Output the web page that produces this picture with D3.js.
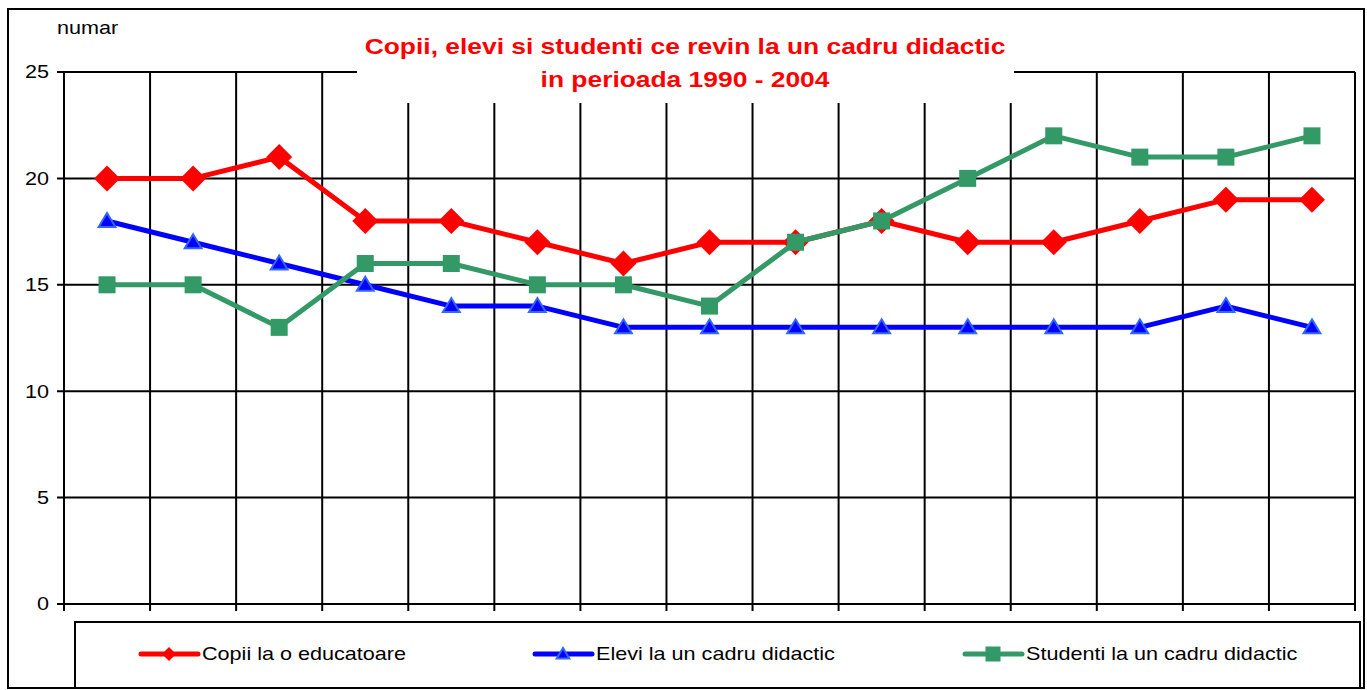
<!DOCTYPE html>
<html><head><meta charset="utf-8">
<script src="https://cdn.jsdelivr.net/npm/d3@7"></script>
<style>body{margin:0;background:#fff}svg{display:block;font-family:"Liberation Sans",Arial,sans-serif}</style>
</head><body>
<svg id="c" width="1367" height="690"></svg>
<script>
const years = ["1990","1991","1992","1993","1994","1995","1996","1997","1998","1999","2000","2001","2002","2003","2004"];
const copii = [20,20,21,18,18,17,16,17,17,18,17,17,18,19,19];
const elevi = [18,17,16,15,14,14,13,13,13,13,13,13,13,14,13];
const studenti = [15,15,13,16,16,15,15,14,17,18,20,22,21,21,22];
const yTicks = [0,5,10,15,20,25];
const titleLines = ["Copii, elevi si studenti ce revin la un cadru didactic","in perioada 1990 - 2004"];
const seriesNames = ["Copii la o educatoare","Elevi la un cadru didactic","Studenti la un cadru didactic"];

const svg = d3.select("#c");
const L=64, R=1355, T=72, B=604;
const SX=1.2;
const x = d3.scaleBand().domain(years).range([L,R]);
const y = d3.scaleLinear().domain([0,25]).range([B,T]);
const cx = d => x(d)+x.bandwidth()/2;
const place = (px,py) => `translate(${px},${py}) scale(${SX},1)`;

// outer border
svg.append("rect").attr("x",8).attr("y",9).attr("width",1356).attr("height",679)
  .attr("fill","none").attr("stroke","#000").attr("stroke-width",2);

// horizontal gridlines
svg.append("g").selectAll("line").data(yTicks).join("line")
  .attr("x1",L-7).attr("x2",R).attr("y1",d=>y(d)).attr("y2",d=>y(d))
  .attr("stroke","#000").attr("stroke-width",2);
// vertical gridlines at band boundaries
const bounds = years.map(d=>x(d)).concat([R]);
svg.append("g").selectAll("line").data(bounds).join("line")
  .attr("x1",d=>d).attr("x2",d=>d).attr("y1",T).attr("y2",(d,i)=>B+7)
  .attr("stroke","#000").attr("stroke-width",2);

// y labels
svg.append("g").selectAll("text").data(yTicks).join("text")
  .attr("transform",d=>place(49,y(d))).attr("dy","0.36em").attr("text-anchor","end")
  .attr("font-size",18).text(d=>d);
svg.append("text").attr("transform",place(57,34)).attr("font-size",18).text("numar");

// title box
svg.append("rect").attr("x",357).attr("y",20).attr("width",657).attr("height",83).attr("fill","#fff");
svg.append("g").selectAll("text").data(titleLines).join("text")
  .attr("transform",(d,i)=>place(685,54+i*33)).attr("text-anchor","middle")
  .attr("font-size",22).attr("font-weight","bold").attr("fill","#ff0000").text(d=>d);

const line = d3.line().x((d,i)=>cx(years[i])).y(d=>y(d));
const diamond = s => `M0,${-s}L${s},0L0,${s}L${-s},0Z`;
const tri = s => `M0,${-s}L${s*1.05},${s*0.75}L${-s*1.05},${s*0.75}Z`;

function drawSeries(vals,color,markerFn){
  const g = svg.append("g");
  g.append("path").attr("d",line(vals)).attr("fill","none").attr("stroke",color).attr("stroke-width",5).attr("stroke-linejoin","round");
  vals.forEach((v,i)=>markerFn(g,cx(years[i]),y(v)));
}
const mkDiamond=(g,px,py,s=13)=>g.append("path").attr("d",diamond(s)).attr("transform",`translate(${px},${py})`).attr("fill","#ff0000");
const mkTri=(g,px,py,s=8)=>g.append("path").attr("d",tri(s)).attr("transform",`translate(${px},${py})`).attr("fill","#0000ff").attr("stroke","#3366ff").attr("stroke-width",2);
const mkSq=(g,px,py,s=17)=>g.append("rect").attr("x",px-s/2).attr("y",py-s/2).attr("width",s).attr("height",s).attr("fill","#339966");

drawSeries(copii,"#ff0000",mkDiamond);
drawSeries(elevi,"#0000ff",mkTri);
drawSeries(studenti,"#339966",mkSq);

// legend
svg.append("rect").attr("x",75).attr("y",622).attr("width",1285).attr("height",66)
  .attr("fill","#fff").attr("stroke","#000").attr("stroke-width",2);
const legX=[141,535,965], colors=["#ff0000","#0000ff","#339966"], mk=[mkDiamond,mkTri,mkSq];
const ly=654;
seriesNames.forEach((n,i)=>{
  const g=svg.append("g");
  g.append("line").attr("x1",legX[i]).attr("x2",legX[i]+57).attr("y1",ly).attr("y2",ly).attr("stroke",colors[i]).attr("stroke-width",5).attr("stroke-linecap","round");
  mk[i](g,legX[i]+28,ly,[7,6,15][i]);
  g.append("text").attr("transform",place(legX[i]+61,ly)).attr("dy","0.36em").attr("font-size",18).text(n);
});
</script>
</body></html>
